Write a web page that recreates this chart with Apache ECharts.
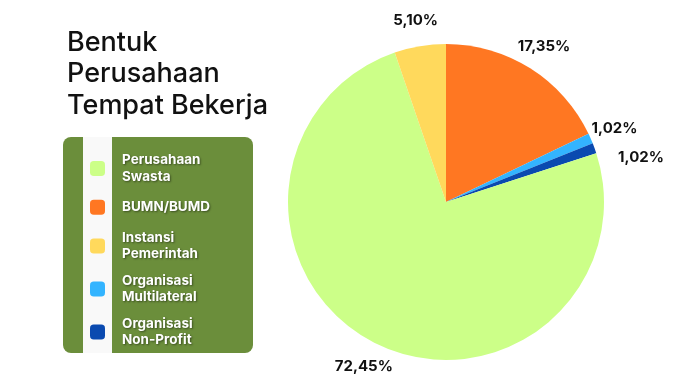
<!DOCTYPE html>
<html><head><meta charset="utf-8">
<script src="https://cdn.jsdelivr.net/npm/echarts@6/dist/echarts.min.js"></script>
<style>html,body{margin:0;padding:0;background:#fff}#c{width:692px;height:392px}</style>
</head><body><div id="c"></div>
<script>
const categories = ['BUMN/BUMD','Organisasi Multilateral','Organisasi Non-Profit','Perusahaan Swasta','Instansi Pemerintah'];
const values = [17.35, 1.02, 1.02, 72.45, 5.10];
const colors = ['#FF7722','#33B4FF','#0A4AB0','#CCFF88','#FFD95C'];
const legendOrder = ['Perusahaan Swasta','BUMN/BUMD','Instansi Pemerintah','Organisasi Multilateral','Organisasi Non-Profit'];
const legendText = {
  'Perusahaan Swasta':'Perusahaan\nSwasta',
  'BUMN/BUMD':'BUMN/BUMD',
  'Instansi Pemerintah':'Instansi\nPemerintah',
  'Organisasi Multilateral':'Organisasi\nMultilateral',
  'Organisasi Non-Profit':'Organisasi\nNon-Profit'
};
const titleText = 'Bentuk\nPerusahaan\nTempat Bekerja';

const chart = echarts.init(document.getElementById('c'));
chart.setOption({
  animation:false,
  color: colors,
  title:{
    text: titleText, left: 62, top: 22,
    textStyle:{fontFamily:'Inter', fontWeight:500, fontSize:27, lineHeight:31.5, color:'#111'}
  },
  graphic:[
    {type:'rect', shape:{x:63,y:137,width:190,height:216,r:8}, style:{fill:'#6B8E3B'}, z:0},
    {type:'rect', shape:{x:83,y:137,width:29,height:216}, style:{fill:'#F9F9F9'}, z:1}
  ],
  legend:{
    orient:'vertical', left:85, top:147,
    data: legendOrder.map(n => n === 'BUMN/BUMD'
      ? {name:n, textStyle:{padding:[4,0,4,12]}} : {name:n}),
    icon:'roundRect', itemWidth:15, itemHeight:15, itemGap:10,
    formatter: n => legendText[n],
    textStyle:{color:'#fff', fontFamily:'Inter', fontWeight:700, fontSize:13.5, lineHeight:16.5,
      padding:[0,0,0,12],
      textShadowColor:'rgba(0,0,0,0.45)', textShadowBlur:2, textShadowOffsetX:1, textShadowOffsetY:1},
    selectedMode:false
  },
  series:[{
    type:'pie', center:[446,202], radius:158, startAngle:90, clockwise:true,
    avoidLabelOverlap:false,
    data: categories.map((c,i)=>({name:c, value:values[i]})),
    label:{show:true, position:'outside', fontFamily:'Inter', fontWeight:700, fontSize:15, color:'#111',
      formatter: p => p.value.toFixed(2).replace('.',',') + '%'},
    labelLine:{show:false, length:26, length2:0},
    emphasis:{disabled:true},
    labelLayout: p => {
      const pts = p.labelLinePoints;
      if (!pts) return {align:'center', verticalAlign:'middle'};
      const end = pts[pts.length - 1];
      const o = {x: end[0], y: end[1], align:'center', verticalAlign:'middle'};
      if (p.dataIndex === 2) { o.x += 22; o.y += 18; }
      return o;
    }
  }]
});
</script></body></html>
